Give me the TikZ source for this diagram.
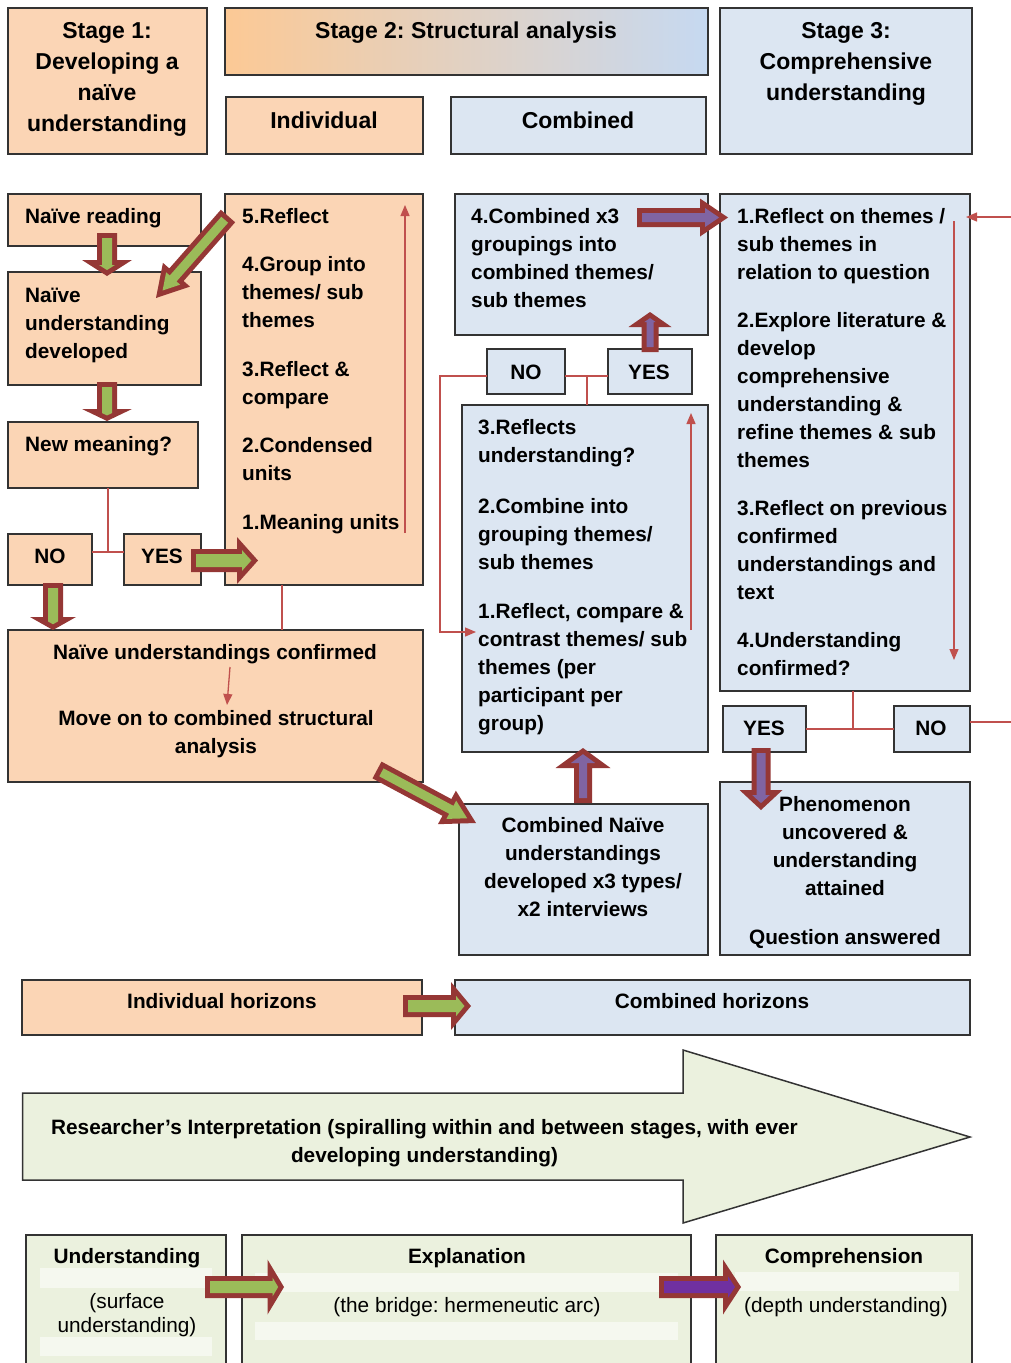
\documentclass[tikz,border=0pt]{standalone}
\usepackage{fontspec}
\setmainfont{Liberation Sans}
\usetikzlibrary{calc,arrows.meta}
\frenchspacing
\definecolor{peach}{HTML}{FBD5B5}
\definecolor{lblue}{HTML}{DCE6F2}
\definecolor{lgreen}{HTML}{EBF1DE}
\definecolor{bandc}{HTML}{F5F8EF}
\definecolor{boxline}{HTML}{333333}
\definecolor{cred}{HTML}{C0504D}
\definecolor{ared}{HTML}{953735}
\definecolor{agreen}{HTML}{9BBB59}
\definecolor{apurple}{HTML}{8064A2}
\definecolor{dpurple}{HTML}{7030A0}
\definecolor{gleft}{HTML}{FCC995}
\definecolor{gright}{HTML}{C6D9F1}
\newcommand\bodyf{\fontsize{20.8}{28}\selectfont\bfseries\frenchspacing}
\newcommand\headf{\fontsize{23}{31}\selectfont\bfseries\frenchspacing}
\newcommand\regf{\fontsize{20.8}{24}\selectfont\frenchspacing}
\newcommand\fab{5}
% #1 fill, #2 tail, #3 tip, #4 shaft half, #5 head half, #6 head length (outer)
\newcommand\fatarrow[6]{%
  \pgfmathsetmacro\faR{sqrt((#6)*(#6)+(#5)*(#5))}%
  \pgfmathsetmacro\faIT{\fab*\faR/(#5)}%
  \pgfmathsetmacro\faIL{(#6)-\fab}%
  \pgfmathsetmacro\faIH{(#5)-\fab*((#5)+\faR)/(#6)}%
  \pgfmathsetmacro\faIS{(#4)-\fab}%
  \pgfmathsetmacro\faU{((\faIS)+\fab*\faR/(#6))*(#6)/(#5)}%
  \pgfmathsetmacro\faD{(\faIH<\faIS) ? \faU : \faIL}%
  \pgfmathsetmacro\faIH{max(\faIH,\faIS)}%
  \coordinate (fa-h) at ($(#3)!#6pt!(#2)$);
  \coordinate (fa-t2) at ($(#2)!\fab pt!(#3)$);
  \coordinate (fa-p2) at ($(#3)!\faIT pt!(#2)$);
  \coordinate (fa-h2) at ($(#3)!\faD pt!(#2)$);
  \fill[ared] ($(#2)!#4pt!90:(#3)$) -- ($(fa-h)!#4pt!90:(#3)$) -- ($(fa-h)!#5pt!90:(#3)$) -- (#3)
     -- ($(fa-h)!#5pt!-90:(#3)$) -- ($(fa-h)!#4pt!-90:(#3)$) -- ($(#2)!#4pt!-90:(#3)$) -- cycle;
  \fill[#1] ($(fa-t2)!\faIS pt!90:(#3)$) -- ($(fa-h2)!\faIS pt!90:(#3)$) -- ($(fa-h2)!\faIH pt!90:(#3)$) -- (fa-p2)
     -- ($(fa-h2)!\faIH pt!-90:(#3)$) -- ($(fa-h2)!\faIS pt!-90:(#3)$) -- ($(fa-t2)!\faIS pt!-90:(#3)$) -- cycle;
}
\newcommand\boxnode[6]{\node[#2, minimum width=#5pt, minimum height=#6pt] (#1) at (#3,#4) {};}
\tikzset{
  box/.style={draw=boxline, line width=1.5pt, inner sep=0pt, outer sep=0pt, anchor=north west},
  pbox/.style={box, fill=peach},
  bbox/.style={box, fill=lblue},
  gbox/.style={box, fill=lgreen},
  gradbox/.style={box, left color=gleft, right color=gright},
  tl/.style={anchor=north west, align=left, inner sep=0pt, font=\bodyf},
  tcn/.style={anchor=north, align=center, inner sep=0pt, font=\bodyf},
  tb/.style={anchor=base, inner sep=0pt, font=\bodyf},
  hcn/.style={anchor=north, align=center, inner sep=0pt, font=\headf},
  hb/.style={anchor=base, inner sep=0pt, font=\headf},
  rcn/.style={anchor=north, align=center, inner sep=0pt, font=\regf},
  rb/.style={anchor=base, inner sep=0pt, font=\regf},
  conn/.style={draw=cred, line width=1.3pt},
  tipc/.style={-{Triangle[length=11pt,width=9pt]}},
  bigarrow/.style={fill=lgreen, draw=boxline, line width=1.5pt, line join=miter},
}
\begin{document}
\begin{tikzpicture}[x=1pt,y=-1pt]
\useasboundingbox (0,0) rectangle (1011,1363);
% ---------- header ----------
\boxnode{s1}{pbox}{8}{8}{199}{146}
\boxnode{s2}{gradbox}{225}{8}{483}{67}
\boxnode{ind}{pbox}{226}{97}{197}{57}
\boxnode{comb}{bbox}{451}{97}{255}{57}
\boxnode{s3}{bbox}{720}{8}{252}{146}
% ---------- stage 1 / individual ----------
\boxnode{nread}{pbox}{8}{194}{193}{52}
\boxnode{nud}{pbox}{8}{272}{193}{113}
\boxnode{newm}{pbox}{8}{422}{190}{66}
\boxnode{no1}{pbox}{8}{534}{84}{51}
\boxnode{yes1}{pbox}{124}{534}{77}{51}
\boxnode{refl}{pbox}{225}{194}{198}{391}
\boxnode{conf}{pbox}{8}{630}{415}{152}
% ---------- combined ----------
\boxnode{c4}{bbox}{455}{194}{253}{141}
\boxnode{no2}{bbox}{487}{349}{78}{45}
\boxnode{yes2}{bbox}{608}{349}{84}{45}
\boxnode{r3}{bbox}{462}{405}{246}{347}
\boxnode{cn}{bbox}{459}{804}{249}{151}
% ---------- stage 3 ----------
\boxnode{st3}{bbox}{720}{194}{250}{497}
\boxnode{yes3}{bbox}{723}{706}{83}{46}
\boxnode{no3}{bbox}{894}{706}{76}{46}
\boxnode{phen}{bbox}{720}{782}{250}{173}
% ---------- horizons ----------
\boxnode{ih}{pbox}{22}{980}{400}{55}
\boxnode{ch}{bbox}{455}{980}{515}{55}
% ---------- big arrow ----------
\draw[bigarrow] (22.5,1093) -- (683,1093) -- (683,1050) -- (970,1137) -- (683,1223) -- (683,1180) -- (22.5,1180) -- cycle;
% ---------- bottom boxes ----------
\boxnode{und}{gbox}{26}{1235}{200}{140}
\boxnode{expl}{gbox}{242}{1235}{449}{140}
\boxnode{compr}{gbox}{716}{1235}{256}{140}
\fill[bandc] (40,1268) rectangle (212,1288);
\fill[bandc] (40,1337) rectangle (212,1356);
\fill[bandc] (255,1273) rectangle (678,1292);
\fill[bandc] (255,1322) rectangle (678,1340);
\fill[bandc] (735,1272) rectangle (959,1291);
% ---------- thin connectors ----------
\coordinate (j1) at (108,552);
\draw[conn] (j1 -| no1.east) -- (j1 -| yes1.west);
\draw[conn] (j1) -- (j1 |- newm.south);
\coordinate (j2) at (282,600);
\draw[conn] (j2 |- refl.south) -- (j2 |- conf.north);
\coordinate (fin1) at (405,533);
\coordinate (fin2) at (405,205);
\draw[conn,tipc] (fin1) -- (fin2);
\coordinate (cf1) at (230,667);
\coordinate (cf2) at (227,705);
\draw[conn,tipc] (cf1) -- (cf2);
\coordinate (j3) at (587,376);
\draw[conn] (j3 -| no2.east) -- (j3 -| yes2.west);
\draw[conn] (j3) -- (j3 |- r3.north);
\coordinate (lp) at (440,632);
\coordinate (lpin) at (476,632);
\draw[conn,tipc] (j3 -| no2.west) -- (lp |- j3) -- (lp) -- (lpin);
\coordinate (rin1) at (691,630);
\coordinate (rin2) at (691,413);
\draw[conn,tipc] (rin1) -- (rin2);
\coordinate (sin1) at (954,221);
\coordinate (sin2) at (954,660);
\draw[conn,tipc] (sin1) -- (sin2);
\coordinate (ein) at (1015,217);
\coordinate (eout) at (966,217);
\draw[conn,tipc] (ein) -- (eout);
\coordinate (j4) at (853,729);
\draw[conn] (j4 -| yes3.east) -- (j4 -| no3.west);
\draw[conn] (j4) -- (j4 |- st3.south);
\coordinate (nout) at (1015,722);
\draw[conn] (no3.east |- nout) -- (nout);
% ---------- block arrows ----------
\coordinate (a1s) at (107,233);   \coordinate (a1e) at (107,276);
\fatarrow{agreen}{a1s}{a1e}{10}{25}{16}
\coordinate (a2s) at (107,382);   \coordinate (a2e) at (107,421);
\fatarrow{agreen}{a2s}{a2e}{10}{25}{12}
\coordinate (a3s) at (53,583);    \coordinate (a3e) at (53,630);
\fatarrow{agreen}{a3s}{a3e}{10}{23}{13}
\coordinate (a4s) at (191,560.5); \coordinate (a4e) at (258,560.5);
\fatarrow{agreen}{a4s}{a4e}{11.5}{23.5}{21}
\coordinate (a5s) at (228,216);   \coordinate (a5e) at (156,298);
\fatarrow{agreen}{a5s}{a5e}{9.5}{18}{31}
\coordinate (a6s) at (637,217.5); \coordinate (a6e) at (728,217.5);
\fatarrow{apurple}{a6s}{a6e}{9.5}{19}{28}
\coordinate (a7s) at (650,352);   \coordinate (a7e) at (650,312);
\fatarrow{apurple}{a7s}{a7e}{8.5}{21.5}{15}
\coordinate (a8s) at (583,803);   \coordinate (a8e) at (583,748);
\fatarrow{apurple}{a8s}{a8e}{9}{27.5}{20}
\coordinate (a9s) at (761,748);   \coordinate (a9e) at (761,810);
\fatarrow{apurple}{a9s}{a9e}{9.5}{21.5}{20}
\coordinate (a10s) at (377,770); \coordinate (a10e) at (476,823);
\fatarrow{agreen}{a10s}{a10e}{9.5}{19}{33}
\coordinate (a11s) at (403,1006); \coordinate (a11e) at (471,1006);
\fatarrow{agreen}{a11s}{a11e}{11}{24}{20}
\coordinate (a12s) at (205,1287); \coordinate (a12e) at (284,1287);
\fatarrow{agreen}{a12s}{a12e}{11}{27.5}{16.5}
\coordinate (a13s) at (659,1287); \coordinate (a13e) at (741,1287);
\fatarrow{dpurple}{a13s}{a13e}{11}{27.5}{18}
% ---------- texts ----------
\node[hcn] (t-s1) at (107,16.3) {\strut Stage 1:\\Developing a\\naïve\\understanding};
\node[hcn] (t-s2) at (466,16.3) {\strut Stage 2: Structural analysis};
\node[hcn] (t-s3) at (846,16.3) {\strut Stage 3:\\Comprehensive\\understanding};
\node[hb] (t-ind) at (324,128) {Individual};
\node[hb] (t-comb) at (578,128) {Combined};
\node[tl] (t-nread) at (25,203.4) {\strut Naïve reading};
\node[tl] (t-nud) at (25,282.4) {\strut Naïve\\understanding\\developed};
\node[tl] (t-newm) at (25,431.4) {\strut New meaning?};
\node[tb] (t-no1) at (50,563.5) {NO};
\node[tb] (t-yes1) at (162,563.5) {YES};
\node[tl] (t-refl) at (242,203.4) {\strut 5.Reflect\\[20.5pt]4.Group into\\themes/ sub\\themes\\[20.5pt]3.Reflect \&\\compare\\[20.5pt]2.Condensed\\units\\[20.5pt]1.Meaning units};
\node[tcn] (t-conf1) at (215,639.4) {\strut Naïve understandings confirmed};
\node[tcn] (t-conf2) at (216,705.4) {\strut Move on to combined structural\\analysis};
\node[tl] (t-c4) at (471,203.4) {\strut 4.Combined x3\\groupings into\\combined themes/\\sub themes};
\node[tb] (t-no2) at (526,379.5) {NO};
\node[tb] (t-yes2) at (649,379.5) {YES};
\node[tl] (t-r3) at (478,414.4) {\strut 3.Reflects\\understanding?\\[23pt]2.Combine into\\grouping themes/\\sub themes\\[21pt]1.Reflect, compare \&\\contrast themes/ sub\\themes (per\\participant per\\group)};
\node[tcn] (t-cn) at (583,812.4) {\strut Combined Naïve\\understandings\\developed x3 types/\\x2 interviews};
\node[tl] (t-st3) at (737,203.4) {\strut 1.Reflect on themes /\\sub themes in\\relation to question\\[20pt]2.Explore literature \&\\develop\\comprehensive\\understanding \&\\refine themes \& sub\\themes\\[20pt]3.Reflect on previous\\confirmed\\understandings and\\text\\[20pt]4.Understanding\\confirmed?};
\node[tb] (t-yes3) at (764,735.5) {YES};
\node[tb] (t-no3) at (931,735.5) {NO};
\node[tcn] (t-phen) at (845,791.4) {\strut Phenomenon\\uncovered \&\\understanding\\attained\\[21pt]Question answered};
\node[tb] (t-ih) at (222,1008.5) {Individual horizons};
\node[tb] (t-ch) at (712,1008.5) {Combined horizons};
\node[tcn] (t-ri) at (424.5,1114.4) {\strut Researcher’s Interpretation (spiralling within and between stages, with ever\\developing understanding)};
\node[tb] (t-und) at (127,1263.5) {Understanding};
\node[rcn] (t-und2) at (127,1291.2) {\strut (surface\\understanding)};
\node[tb] (t-expl) at (467,1263.5) {Explanation};
\node[rb] (t-expl2) at (467,1312) {(the bridge: hermeneutic arc)};
\node[tb] (t-compr) at (844,1263.5) {Comprehension};
\node[rb] (t-compr2) at (846,1312) {(depth understanding)};
\end{tikzpicture}
\end{document}
